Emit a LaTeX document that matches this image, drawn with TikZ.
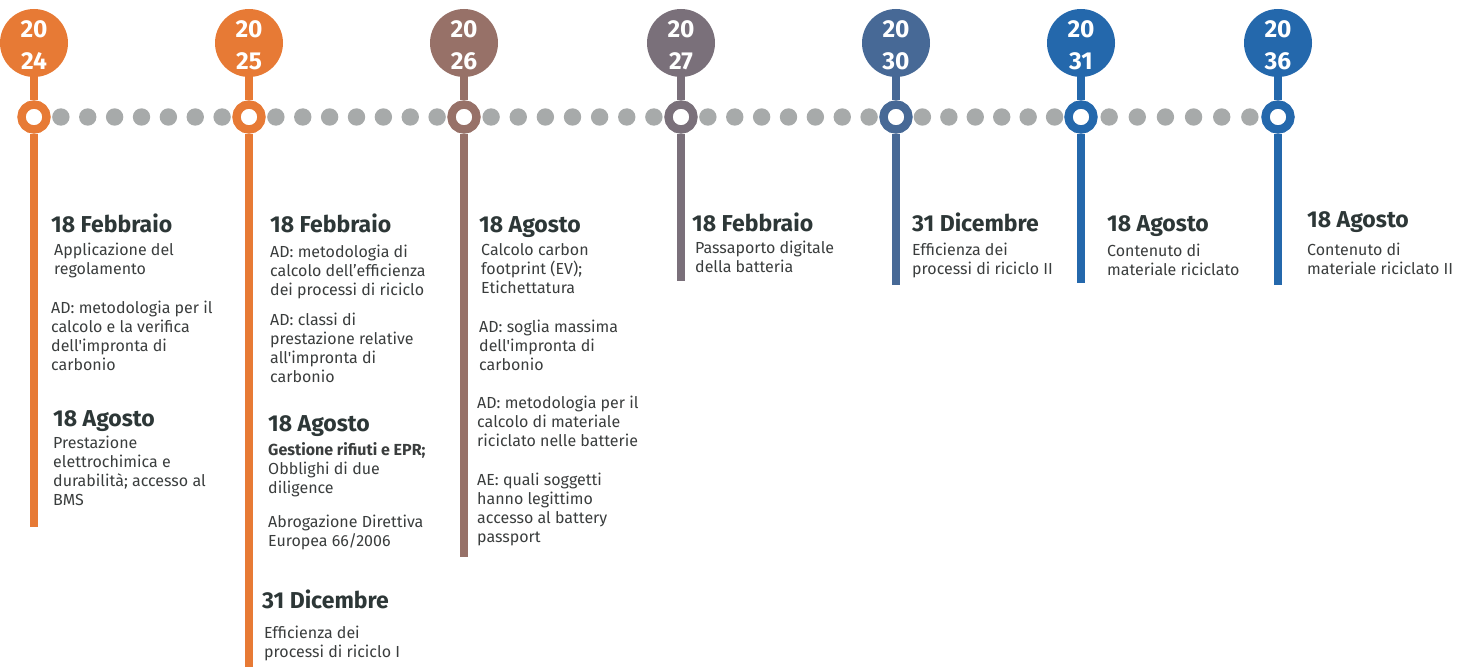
\documentclass[tikz,border=0pt]{standalone}
\usepackage{fontspec}
\setmainfont{Fira Sans}[Ligatures=TeXOff]
\definecolor{corange}{HTML}{E77A35}
\definecolor{cbrown}{HTML}{977168}
\definecolor{cmauve}{HTML}{7A707A}
\definecolor{cslate}{HTML}{476996}
\definecolor{cblue}{HTML}{2468AC}
\definecolor{dotgray}{HTML}{A7AAAA}
\definecolor{hdrc}{HTML}{2D3737}
\definecolor{bodyc}{HTML}{3A3D3D}
\newcommand\blk[1]{\vtop{\baselineskip=19pt\halign{##\hfil\cr#1\crcr}}}
\newcommand\yr[1]{\rule{0pt}{20.5pt}20\\#1}
\begin{document}
\begin{tikzpicture}[x=1pt,y=-1pt,
  yearc/.style={circle, minimum size=68pt, inner sep=0pt, outer sep=0pt, fill=#1, text=white,
    font=\bfseries\fontsize{24.5}{32}\selectfont, align=center},
  ringc/.style={circle, minimum size=25pt, inner sep=0pt, draw=#1, line width=8.4pt, fill=white},
  vline/.style={line width=8pt, draw=#1},
  hdr/.style={anchor=base west, inner sep=0pt, font=\bfseries\fontsize{23}{26}\selectfont, text=hdrc},
  body/.style={anchor=base west, inner sep=0pt, font=\fontsize{16}{19}\selectfont, text=bodyc}]
\useasboundingbox (0,0) rectangle (1472,671);
% dotted timeline
\foreach \a/\b/\n in {34/249/7, 249/464/7, 464/681/7, 681/896/7, 896/1081/6, 1081/1278/6}{
  \foreach \i in {1,...,\n}{
    \fill[dotgray] ({\a+(\b-\a)*\i/(\n+1)},117) circle (8.7);
  }
}
% year circles
\node[yearc=corange] (y24) at (34,43) {\yr{24}};
\node[yearc=corange] (y25) at (249,43) {\yr{25}};
\node[yearc=cbrown]  (y26) at (464,43) {\yr{26}};
\node[yearc=cmauve]  (y27) at (681,43) {\yr{27}};
\node[yearc=cslate]  (y30) at (896,43) {\yr{30}};
\node[yearc=cblue]   (y31) at (1081,43) {\yr{31}};
\node[yearc=cblue]   (y36) at (1278,43) {\yr{36}};
% rings
\node[ringc=corange] (r24) at (34,117) {};
\node[ringc=corange] (r25) at (249,117) {};
\node[ringc=cbrown]  (r26) at (464,117) {};
\node[ringc=cmauve]  (r27) at (681,117) {};
\node[ringc=cslate]  (r30) at (896,117) {};
\node[ringc=cblue]   (r31) at (1081,117) {};
\node[ringc=cblue]   (r36) at (1278,117) {};
% line ends
\coordinate (e24) at (34,527);
\coordinate (e25) at (249,667);
\coordinate (e26) at (464,557);
\coordinate (e27) at (681,281);
\coordinate (e30) at (896,285);
\coordinate (e31) at (1081,283);
\coordinate (e36) at (1278,285);
% stems and lines
\foreach \y/\c in {24/corange,25/corange,26/cbrown,27/cmauve,30/cslate,31/cblue,36/cblue}{
  \draw[vline=\c] (y\y.south) -- (r\y.north);
  \draw[vline=\c] (r\y.south) -- (e\y);
}
% 2024
\node[hdr]  (h24a) at (51,233) {18 Febbraio};
\node[body] (t24a) at (54,255) {\blk{Applicazione del\cr regolamento}};
\node[body] (t24b) at (51,313) {\blk{AD: metodologia per il\cr calcolo e la verifica\cr dell'impronta di\cr carbonio}};
\node[hdr]  (h24b) at (53,426) {18 Agosto};
\node[body] (t24c) at (53,448) {\blk{Prestazione\cr elettrochimica e\cr durabilità; accesso al\cr BMS}};
% 2025
\node[hdr]  (h25a) at (270,233) {18 Febbraio};
\node[body] (t25a) at (270,257) {\blk{AD: metodologia di\cr calcolo dell’efficienza\cr dei processi di riciclo}};
\node[body] (t25b) at (270,325) {\blk{AD: classi di\cr prestazione relative\cr all'impronta di\cr carbonio}};
\node[hdr]  (h25b) at (268,431) {18 Agosto};
\node[body] (t25c) at (268,455) {\blk{\textbf{Gestione rifiuti e EPR;}\cr Obblighi di due\cr diligence}};
\node[body] (t25d) at (268,527) {\blk{Abrogazione Direttiva\cr Europea 66/2006}};
\node[hdr]  (h25c) at (262,608) {31 Dicembre};
\node[body] (t25e) at (264,638) {\blk{Efficienza dei\cr processi di riciclo I}};
% 2026
\node[hdr]  (h26a) at (479,233) {18 Agosto};
\node[body] (t26a) at (481,255) {\blk{Calcolo carbon\cr footprint (EV);\cr Etichettatura}};
\node[body] (t26b) at (479,332) {\blk{AD: soglia massima\cr dell'impronta di\cr carbonio}};
\node[body] (t26c) at (477,408) {\blk{AD: metodologia per il\cr calcolo di materiale\cr riciclato nelle batterie}};
\node[body] (t26d) at (477,485) {\blk{AE: quali soggetti\cr hanno legittimo\cr accesso al battery\cr passport}};
% 2027
\node[hdr]  (h27a) at (692,232) {18 Febbraio};
\node[body] (t27a) at (695,253) {\blk{Passaporto digitale\cr della batteria}};
% 2030
\node[hdr]  (h30a) at (912,232) {31 Dicembre};
\node[body] (t30a) at (912,255) {\blk{Efficienza dei\cr processi di riciclo II}};
% 2031
\node[hdr]  (h31a) at (1107,232) {18 Agosto};
\node[body] (t31a) at (1107,256) {\blk{Contenuto di\cr materiale riciclato}};
% 2036
\node[hdr]  (h36a) at (1307,228) {18 Agosto};
\node[body] (t36a) at (1307,255) {\blk{Contenuto di\cr materiale riciclato II}};
\end{tikzpicture}
\end{document}
